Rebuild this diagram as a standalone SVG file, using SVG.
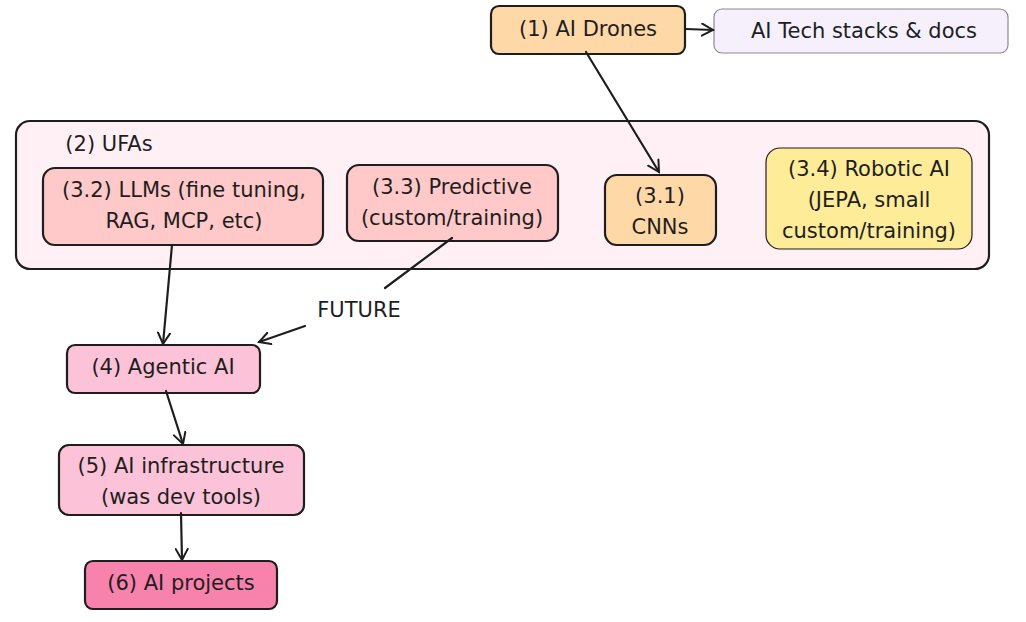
<svg xmlns="http://www.w3.org/2000/svg" width="1026" height="622" viewBox="0 0 1026 622">
<defs>
<marker id="ah" markerWidth="14" markerHeight="14" refX="12" refY="7" orient="auto" markerUnits="userSpaceOnUse"><path d="M1,1 L12,7 L1,13" fill="none" stroke="#1e1e1e" stroke-width="2" stroke-linecap="round"/></marker>
</defs>
<style>
.n{stroke:#1e1e1e;stroke-width:2.2}
text{font-family:"DejaVu Sans","Liberation Sans",sans-serif;font-size:21px;fill:#1e1e1e;text-anchor:middle}
.c{fill:none;stroke:#1e1e1e;stroke-width:2.2;stroke-linecap:round}
</style>
<rect width="1026" height="622" fill="#ffffff"/>
<g id="ufas"><rect class="n" x="16" y="121" width="973" height="148" rx="14" fill="#fff0f5"/><text x="109" y="151">(2) UFAs</text></g>
<g id="drones"><rect class="n" x="491" y="6" width="194" height="48" rx="8" fill="#ffd8a8"/><text x="588" y="36">(1) AI Drones</text></g>
<g id="techstacks"><rect x="714" y="9" width="294" height="44" rx="8" fill="#f5f0fc" stroke="#8a8a8a" stroke-width="1.2"/><text x="864" y="38">AI Tech stacks &amp; docs</text></g>
<g id="llms"><rect class="n" x="43" y="168" width="280" height="77" rx="12" fill="#ffc9c9"/><text x="184" y="197">(3.2) LLMs (fine tuning,</text><text x="184" y="228">RAG, MCP, etc)</text></g>
<g id="predictive"><rect class="n" x="347" y="165" width="211" height="76" rx="12" fill="#ffc9c9"/><text x="452" y="194">(3.3) Predictive</text><text x="452" y="225">(custom/training)</text></g>
<g id="cnns"><rect class="n" x="605" y="175" width="111" height="70" rx="12" fill="#ffd8a8"/><text x="660" y="203">(3.1)</text><text x="660" y="234">CNNs</text></g>
<g id="robotic"><rect x="766" y="148" width="206" height="101" rx="14" fill="#ffec99" stroke="#1e1e1e" stroke-width="1.2"/><text x="869" y="176">(3.4) Robotic AI</text><text x="869" y="207">(JEPA, small</text><text x="869" y="238">custom/training)</text></g>
<g id="agentic"><rect class="n" x="67" y="345" width="193" height="48" rx="8" fill="#fcc2d7"/><text x="163" y="374">(4) Agentic AI</text></g>
<g id="infra"><rect class="n" x="59" y="445" width="245" height="70" rx="10" fill="#fcc2d7"/><text x="181" y="473">(5) AI infrastructure</text><text x="181" y="504">(was dev tools)</text></g>
<g id="projects"><rect class="n" x="85" y="561" width="192" height="48" rx="8" fill="#f783ac"/><text x="181" y="590">(6) AI projects</text></g>
<g id="connectors">
<line class="c" x1="686" y1="29" x2="713" y2="30" marker-end="url(#ah)"/>
<line class="c" x1="586" y1="52" x2="659" y2="172" marker-end="url(#ah)"/>
<line class="c" x1="172" y1="245" x2="163" y2="344" marker-end="url(#ah)"/>
<polyline class="c" points="452,238 385,288"/>
<line class="c" x1="305" y1="326" x2="259" y2="342" marker-end="url(#ah)"/>
<line class="c" x1="166" y1="391" x2="183" y2="444" marker-end="url(#ah)"/>
<line class="c" x1="181" y1="513" x2="182" y2="560" marker-end="url(#ah)"/>
<text x="359" y="317">FUTURE</text>
</g>
</svg>
